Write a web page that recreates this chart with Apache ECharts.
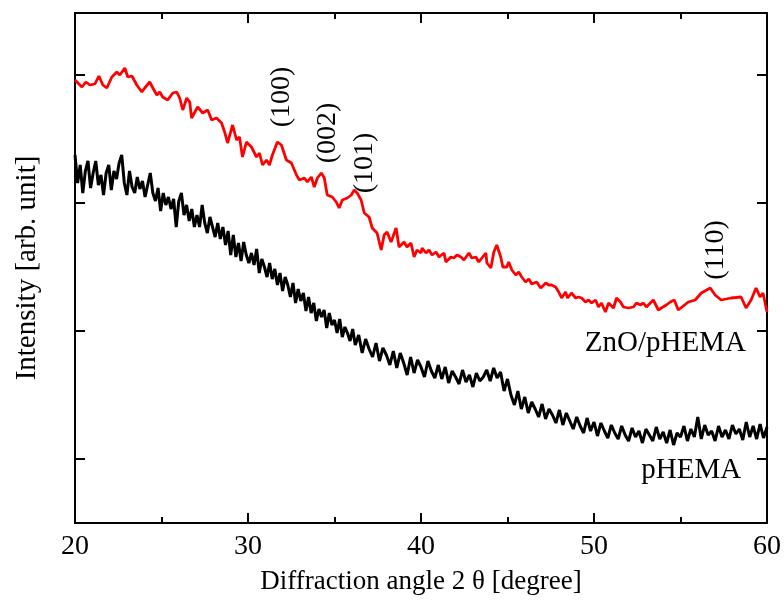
<!DOCTYPE html>
<html>
<head>
<meta charset="utf-8">
<script src="https://cdn.jsdelivr.net/npm/echarts@6/dist/echarts.min.js"></script>
<style>html,body{margin:0;padding:0;background:#fff;}#c{width:784px;height:604px;}</style>
</head>
<body>
<div id="c"></div>
<script>
// ZnO/pHEMA (red) : 2θ (deg) and intensity (arb.)
var znoAngle = [20.00,20.40,20.63,20.86,21.15,21.38,21.61,21.84,22.13,22.42,22.59,22.88,23.05,23.29,23.57,23.86,24.03,24.32,24.50,24.73,24.90,25.07,25.36,25.65,25.88,26.05,26.23,26.46,26.63,26.74,27.09,27.38,27.67,27.90,28.18,28.47,28.65,28.82,29.11,29.34,29.51,29.68,29.91,30.20,30.49,30.66,30.84,31.07,31.24,31.41,31.70,31.93,32.22,32.51,32.80,32.97,33.26,33.43,33.66,33.83,34.01,34.24,34.41,34.58,34.87,35.10,35.27,35.45,35.74,35.97,36.14,36.31,36.54,36.72,37.00,37.18,37.46,37.70,37.87,38.04,38.27,38.56,38.73,39.02,39.19,39.42,39.60,39.77,40.00,40.06,40.29,40.46,40.64,40.87,41.04,41.33,41.44,41.73,41.90,42.08,42.31,42.48,42.77,42.94,43.17,43.34,43.52,43.75,43.81,44.04,44.21,44.38,44.61,44.73,44.96,45.07,45.25,45.48,45.65,45.82,46.05,46.23,46.40,46.69,46.92,47.21,47.38,47.55,47.78,47.96,48.13,48.36,48.47,48.70,48.94,49.11,49.28,49.51,49.68,49.86,50.09,50.26,50.43,50.66,50.84,51.13,51.30,51.53,51.70,51.99,52.28,52.45,52.68,52.85,53.03,53.14,53.43,53.72,53.89,54.18,54.41,54.64,54.87,55.16,55.45,55.85,56.20,56.72,57.00,57.35,57.93,58.50,58.79,59.08,59.37,59.60,59.77,60.00];
var znoIntensity = [443,436,441,438,439,447,438,435,446,451,448,455,446,447,438,431,435,441,435,428,431,426,423,430,431,425,413,425,421,405,416,410,413,403,405,400,391,380,398,383,386,366,381,376,366,370,358,363,358,368,381,378,363,360,348,343,345,341,346,336,345,350,345,328,326,321,315,323,325,328,333,330,323,310,306,295,290,273,288,291,281,295,276,281,276,280,266,273,270,275,270,273,268,271,266,270,261,266,265,268,266,263,270,265,266,261,265,270,260,255,271,278,266,256,256,261,253,248,251,246,241,244,239,241,235,240,238,238,236,231,225,231,225,230,225,226,225,221,223,220,223,216,220,211,220,215,225,221,216,215,216,220,218,220,216,218,223,213,215,218,221,223,213,217,221,223,230,235,228,223,225,226,215,223,235,226,230,211];

// pHEMA (black)
var phemaAngle = [20.00,20.15,20.30,20.45,20.60,20.75,20.90,21.05,21.20,21.35,21.50,21.65,21.80,21.95,22.10,22.25,22.40,22.55,22.70,22.85,23.00,23.15,23.30,23.45,23.60,23.75,23.90,24.05,24.20,24.35,24.50,24.65,24.80,24.95,25.10,25.25,25.40,25.55,25.70,25.85,26.00,26.15,26.30,26.45,26.60,26.75,26.90,27.05,27.20,27.35,27.50,27.65,27.80,27.95,28.10,28.25,28.40,28.55,28.70,28.85,29.00,29.15,29.30,29.45,29.60,29.75,29.90,30.05,30.20,30.35,30.50,30.65,30.80,30.95,31.10,31.25,31.40,31.55,31.70,31.85,32.00,32.15,32.30,32.45,32.60,32.75,32.90,33.05,33.20,33.35,33.50,33.65,33.80,33.95,34.10,34.25,34.40,34.55,34.70,34.85,35.00,35.15,35.30,35.45,35.60,35.75,35.90,36.05,36.20,
  36.40,36.60,36.80,37.00,37.20,37.40,37.60,37.80,38.00,38.20,38.40,38.60,38.80,39.00,39.20,39.40,39.60,39.80,40.00,40.20,40.40,40.60,40.80,41.00,41.20,41.40,41.60,41.80,42.00,42.20,42.40,42.60,42.80,43.00,43.20,43.40,43.60,43.80,44.00,44.20,44.40,44.60,44.80,45.00,45.20,45.40,45.60,45.80,46.00,46.20,46.40,46.60,46.80,47.00,47.20,47.40,47.60,47.80,48.00,48.20,48.40,48.60,48.80,49.00,49.20,49.40,49.60,49.80,50.00,50.20,50.40,50.60,50.80,51.00,51.20,51.40,51.60,51.80,52.00,52.20,52.40,52.60,52.80,53.00,53.20,53.40,53.60,53.80,54.00,54.20,54.40,54.60,54.80,55.00,55.20,55.40,55.60,55.80,56.00,56.20,56.40,56.60,56.80,57.00,57.20,57.40,57.60,57.80,58.00,58.20,58.40,58.60,58.80,59.00,59.20,59.40,59.60,59.80,60.00];
var phemaIntensity = [368,340,358,330,352,362,335,350,362,338,348,328,350,358,333,352,344,360,368,340,328,352,336,330,346,334,342,326,338,350,330,322,335,312,330,318,326,314,324,296,322,330,308,318,302,314,296,
  308,296,318,300,290,306,296,286,300,284,296,278,292,268,288,266,280,262,281,268,260,270,258,274,250,264,256,246,260,244,254,238,250,232,246,238,226,240,220,234,222,230,212,226,210,220,202,214,206,213,195,210,198,203,190,204,186,196,190,182,194,178,
  188,170,184,174,166,180,162,175,168,158,172,155,170,160,148,166,150,163,156,146,162,152,145,158,144,156,140,152,146,139,153,141,148,136,150,142,146,153,142,155,145,151,132,144,128,118,132,114,126,110,121,114,106,119,104,114,108,100,113,98,110,102,94,106,97,90,105,92,101,87,100,92,85,98,90,84,97,88,82,95,86,92,80,94,88,82,96,84,91,80,93,78,90,86,97,82,94,86,106,84,98,88,92,82,97,86,93,84,98,89,94,83,101,86,97,84,99,85,96];

// annotations
var annText = ['(100)','(002)','(101)','(110)','ZnO/pHEMA','pHEMA'];
var annAngle = [31.93,34.58,36.77,57.06,54.12,55.62];
var annIntensity = [426,390,360,273,180,53];
var annRotate = [90,90,90,90,0,0];

var yTicks = [64,192,320,448];
var FONT = '"Liberation Serif","Times New Roman",serif';

function pairs(a,b){var r=[];for(var i=0;i<a.length;i++)r.push([a[i],b[i]]);return r;}

var marks = [];
for (var i=0;i<annText.length;i++){
  marks.push({coord:[annAngle[i],annIntensity[i]], value:annText[i],
    label:{rotate:annRotate[i], fontSize: annRotate[i]?28:29}});
}

var chart = echarts.init(document.getElementById('c'), null, {renderer:'canvas'});
var axisLine = {show:true, onZero:false, lineStyle:{color:'#000', width:2}};
var tick = {show:true, inside:true, length:10, lineStyle:{width:2,color:'#000'}};
var minor = {show:true, splitNumber:2, length:6, lineStyle:{width:2,color:'#000'}};
chart.setOption({
  animation:false,
  backgroundColor:'#fff',
  grid:{left:75, right:15, top:13, bottom:81},
  xAxis:[{
    type:'value', min:20, max:60, interval:10, position:'bottom',
    axisLine:axisLine, axisTick:tick, minorTick:minor,
    splitLine:{show:false},
    axisLabel:{color:'#000', fontSize:28, fontFamily:FONT, margin:10},
    name:'Diffraction angle 2 θ [degree]', nameLocation:'middle', nameGap:45,
    nameTextStyle:{color:'#000', fontSize:27, fontFamily:FONT}
  },{
    type:'value', min:20, max:60, interval:10, position:'top',
    axisLine:axisLine, axisTick:tick, minorTick:minor,
    splitLine:{show:false}, axisLabel:{show:false}
  }],
  yAxis:[{
    type:'value', min:0, max:510, position:'left',
    axisLine:axisLine,
    axisTick:{show:true, inside:true, length:10, customValues:yTicks, lineStyle:{width:2,color:'#000'}},
    splitLine:{show:false}, axisLabel:{show:false},
    name:'Intensity [arb. unit]', nameLocation:'middle', nameGap:33, nameRotate:90,
    nameTextStyle:{color:'#000', fontSize:29, fontFamily:FONT}
  },{
    type:'value', min:0, max:510, position:'right',
    axisLine:axisLine,
    axisTick:{show:true, inside:true, length:10, customValues:yTicks, lineStyle:{width:2,color:'#000'}},
    splitLine:{show:false}, axisLabel:{show:false}
  }],
  series:[{
    name:'pHEMA', type:'line', xAxisIndex:0, yAxisIndex:0,
    data:pairs(phemaAngle,phemaIntensity), showSymbol:false, symbol:'none',
    lineStyle:{color:'#000', width:3}, z:2
  },{
    name:'ZnO/pHEMA', type:'line', xAxisIndex:0, yAxisIndex:0,
    data:pairs(znoAngle,znoIntensity), showSymbol:false, symbol:'none',
    lineStyle:{color:'#ff0000', width:2.8}, z:3,
    markPoint:{
      symbol:'circle', symbolSize:0, silent:true,
      label:{show:true, position:'inside', formatter:function(p){return p.value;},
        color:'#000', fontFamily:FONT, fontSize:28, align:'center', verticalAlign:'middle'},
      data:marks
    }
  }]
});
</script>
</body>
</html>
